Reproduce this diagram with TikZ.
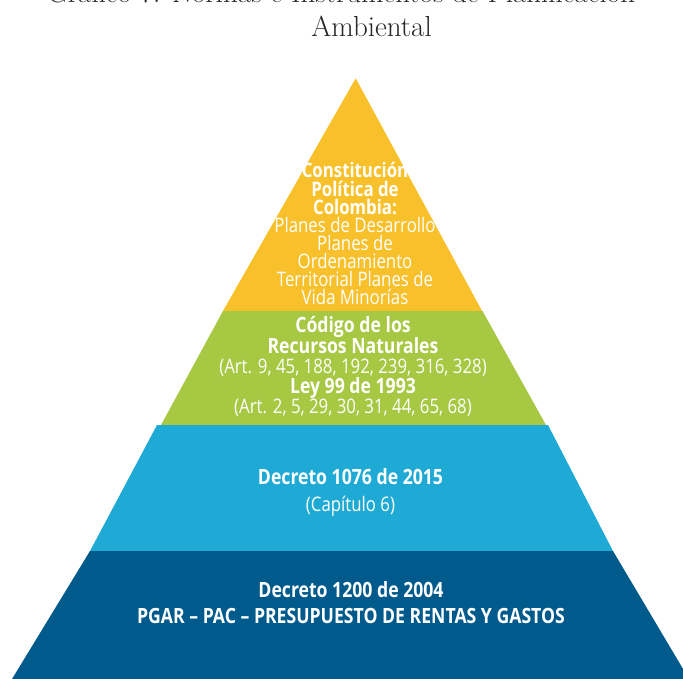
\documentclass[tikz,border=0pt]{standalone}
\usepackage{fontspec}
\newfontfamily\pyrfont[FakeStretch=0.84]{Open Sans}
\definecolor{bandyellow}{HTML}{F8C02A}
\definecolor{bandgreen}{HTML}{A6C843}
\definecolor{bandblue}{HTML}{1FAAD6}
\definecolor{banddark}{HTML}{005A8C}
\tikzset{
  titletext/.style={anchor=base,inner sep=0pt,text=black!85,font=\fontsize{29}{33}\selectfont},
  lighttext/.style={anchor=base,inner sep=0pt,text=white,font=\pyrfont\fontsize{20}{22}\selectfont},
  boldtext/.style={anchor=base,inner sep=0pt,text=white,font=\pyrfont\bfseries\fontsize{21}{23}\selectfont},
  topbold/.style={boldtext,font=\pyrfont\bfseries\fontsize{20}{22}\selectfont}
}
\begin{document}
\begin{tikzpicture}[x=1pt,y=-1pt]
    \useasboundingbox (0,0) rectangle (683,679);
    \clip (0,0) rectangle (683,679);
    % title
    \node[titletext] (title1) at (341,3) {Gráfico 7. Normas e Instrumentos de Planificación};
    \node[titletext] (title2) at (371.5,36.5) {Ambiental};
    % bands of the pyramid
    \coordinate (apex) at (355.7,78.3);
    \fill[bandyellow] (apex) -- (222.6,311.6) -- (482.4,311.6) -- cycle;
    \fill[bandgreen] (223,311) -- (482.5,311) -- (546.3,425.6) -- (160.7,425.6) -- cycle;
    \fill[bandblue] (157,425) -- (548,425) -- (613.3,551.6) -- (89.7,551.6) -- cycle;
    \fill[banddark] (90,551) -- (613,551) -- (689,679) -- (12,679) -- cycle;
    % yellow band
    \node[topbold] (cp1) at (355,178) {Constitución};
    \node[topbold] (cp2) at (355,196.1) {Política de};
    \node[topbold] (cp3) at (355,214.2) {Colombia:};
    \node[lighttext] (pl1) at (355,232.3) {Planes de Desarrollo};
    \node[lighttext] (pl2) at (355,250.4) {Planes de};
    \node[lighttext] (pl3) at (355,268.5) {Ordenamiento};
    \node[lighttext] (pl4) at (355,286.6) {Territorial Planes de};
    \node[lighttext] (pl5) at (355,304.7) {Vida Minorías};
    % green band
    \node[boldtext] (crn1) at (353,332.7) {Código de los};
    \node[boldtext] (crn2) at (353,353) {Recursos Naturales};
    \node[lighttext] (crn3) at (353,373.3) {(Art. 9, 45, 188, 192, 239, 316, 328)};
    \node[boldtext] (ley1) at (353,393.6) {Ley 99 de 1993};
    \node[lighttext] (ley2) at (353,413.9) {(Art. 2, 5, 29, 30, 31, 44, 65, 68)};
    % light blue band
    \node[boldtext] (dec1) at (350.5,484) {Decreto 1076 de 2015};
    \node[lighttext] (dec2) at (350.5,511) {(Capítulo 6)};
    % dark blue band
    \node[boldtext] (pg1) at (351,597) {Decreto 1200 de 2004};
    \node[boldtext] (pg2) at (351,623) {PGAR – PAC – PRESUPUESTO DE RENTAS Y GASTOS};
\end{tikzpicture}
\end{document}
